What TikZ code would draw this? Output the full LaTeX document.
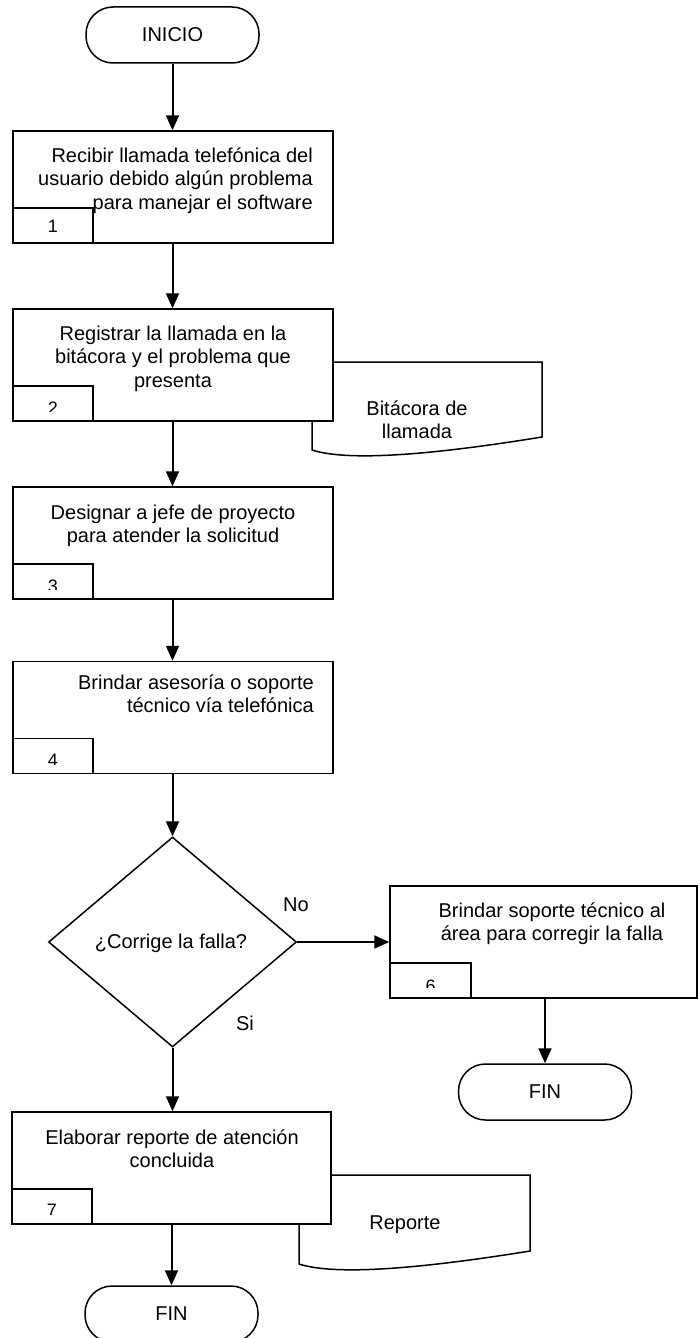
\documentclass[tikz,border=0pt]{standalone}
\usepackage{fontspec}
\setmainfont{Liberation Sans}
\usetikzlibrary{arrows.meta,shapes.geometric}
\newcommand\fstrut{\rule{0pt}{18pt}}
\begin{document}
\begin{tikzpicture}[x=1pt,y=-1pt,
  box/.style={draw, line width=1.5pt, fill=white, rectangle, inner sep=0pt, minimum width=320pt, minimum height=112pt},
  term/.style={draw, line width=1.5pt, fill=white, rounded corners=27pt, minimum width=173pt, minimum height=56pt, inner sep=0pt, font=\fontsize{20}{24}\selectfont},
  txt/.style={inner sep=0pt, font=\fontsize{20}{23.5}\selectfont},
  arr/.style={line width=2pt, -{Triangle[length=15pt,width=13pt]}},
  lbl/.style={draw, line width=1.5pt, minimum width=80pt, minimum height=35pt, inner sep=0pt},
  num/.style={inner sep=0pt, font=\fontsize{18}{18}\selectfont},
  doc/.style={draw, line width=1.5pt, fill=white},
  dec/.style={draw, line width=1.5pt, fill=white, diamond, aspect=1.18, minimum width=248pt, minimum height=210pt, inner sep=0pt, font=\fontsize{20}{24}\selectfont}
]
\useasboundingbox (0,0) rectangle (698,1338);

% documents (behind the boxes)
\draw[doc] (312,362) -- (542,362) -- (542,437) .. controls (413,458) and (343,460) .. (312,450) -- cycle;
\node[txt, align=center, anchor=north] (tb) at (417,397) {\fstrut Bit\'acora de\\llamada};
\draw[doc] (299,1175) -- (530,1175) -- (530,1251) .. controls (400,1272) and (330,1274) .. (299,1264) -- cycle;
\node[txt, anchor=base] (tr) at (405,1229) {Reporte};

% terminals
\node[term] (ini) at (172.5,35) {INICIO};
\node[term] (fin2) at (545,1092) {FIN};
\node[term] (fin1) at (171.5,1314) {FIN};

% process boxes
\node[box] (b1) at (173,187) {};
\node[box] (b2) at (173,365) {};
\node[box] (b3) at (173,543) {};
\node[box] (b4) at (173,717.5) {};
\node[box, minimum width=307pt] (b6) at (543.5,942) {};
\node[box, minimum width=319pt] (b7) at (171.5,1168) {};

% decision
\node[dec] (d) at (172.5,942) {};
\node[txt] (dt) at (171,943) {¿Corrige la falla?};

% number boxes
\node[lbl, anchor=south west] (l1) at (b1.south west) {};
\node[lbl, anchor=south west] (l2) at (b2.south west) {};
\node[lbl, anchor=south west] (l3) at (b3.south west) {};
\node[lbl, anchor=south west] (l4) at (b4.south west) {};
\node[lbl, anchor=south west, minimum width=81pt] (l6) at (b6.south west) {};
\node[lbl, anchor=south west] (l7) at (b7.south west) {};

\begin{scope}
\clip (l1.north west) rectangle ([yshift=9pt]l1.south east);
\node[num, anchor=north] (n1) at ([yshift=-13pt]l1.north) {1};
\end{scope}
\begin{scope}
\clip (l2.north west) rectangle ([yshift=10pt]l2.south east);
\node[num, anchor=north] (n2) at ([yshift=-16pt]l2.north) {2};
\end{scope}
\begin{scope}
\clip (l3.north west) rectangle ([yshift=10pt]l3.south east);
\node[num, anchor=north] (n3) at ([yshift=-16pt]l3.north) {3};
\end{scope}
\begin{scope}
\clip (l4.north west) rectangle ([yshift=10pt]l4.south east);
\node[num, anchor=north] (n4) at ([yshift=-16pt]l4.north) {4};
\end{scope}
\begin{scope}
\clip (l6.north west) rectangle ([yshift=11pt]l6.south east);
\node[num, anchor=north] (n6) at ([yshift=-17pt]l6.north) {6};
\end{scope}
\begin{scope}
\clip (l7.north west) rectangle ([yshift=10pt]l7.south east);
\node[num, anchor=north] (n7) at ([yshift=-16pt]l7.north) {7};
\end{scope}

% box texts
\node[txt, align=right, anchor=north east] (t1) at (313,144) {\fstrut Recibir llamada telef\'onica del\\usuario debido alg\'un problema\\para manejar el software};
\node[txt, align=center, anchor=north] (t2) at (173,322) {\fstrut Registrar la llamada en la\\bit\'acora y el problema que\\presenta};
\node[txt, align=center, anchor=north] (t3) at (173,501) {\fstrut Designar a jefe de proyecto\\para atender la solicitud};
\node[txt, align=right, anchor=north east] (t4) at (314,671) {\fstrut Brindar asesor\'ia o soporte\\t\'ecnico v\'ia telef\'onica};
\node[txt, align=center, anchor=north] (t6) at (552,899) {\fstrut Brindar soporte t\'ecnico al\\\'area para corregir la falla};
\node[txt, align=center, anchor=north] (t7) at (172,1126) {\fstrut Elaborar reporte de atenci\'on\\concluida};

% branch labels
\node[txt] (no) at (296,905) {No};
\node[txt] (si) at (245,1023) {Si};

% connectors
\draw[arr] (ini.south) -- (ini.south |- b1.north);
\draw[arr] (b1.south -| ini) -- (ini |- b2.north);
\draw[arr] (b2.south -| ini) -- (ini |- b3.north);
\draw[arr] (b3.south -| ini) -- (ini |- b4.north);
\draw[arr] (b4.south -| d) -- (d.north);
\draw[arr] (d.east) -- (d.east -| b6.west);
\draw[arr] (b6.south -| fin2) -- (fin2.north);
\draw[arr] (d.south) -- (d.south |- b7.north);
\draw[arr] (b7.south -| fin1) -- (fin1.north);
\end{tikzpicture}
\end{document}
